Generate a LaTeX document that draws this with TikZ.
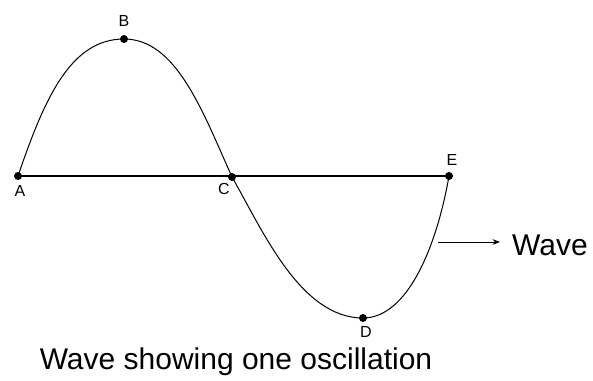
\documentclass[tikz,border=0pt]{standalone}
\usepackage{fontspec}
\setmainfont{Liberation Sans}
\usetikzlibrary{arrows.meta, positioning}

\begin{document}
\begin{tikzpicture}[x=1pt, y=-1pt,
    dot/.style={circle, fill=black, inner sep=0pt, minimum size=8pt},
    lbl/.style={font=\fontsize{16}{18}\selectfont, inner sep=0pt},
    wave/.style={line width=1pt},
  ]
  \useasboundingbox (0,0) rectangle (593,380);
  % points on the wave
  \node[dot] (A) at (18,176) {};
  \node[dot] (B) at (124,39) {};
  \node[dot] (C) at (232,177) {};
  \node[dot] (D) at (363,318) {};
  \node[dot] (E) at (449,176) {};
  \node[lbl, below=5pt of A, xshift=2pt] (labA) {A};
  \node[lbl, above=8pt of B] (labB) {B};
  \node[lbl, below=2pt of C, xshift=-8pt] (labC) {C};
  \node[lbl, below=4pt of D, xshift=3pt] (labD) {D};
  \node[lbl, above=6pt of E, xshift=3pt] (labE) {E};
  % axis
  \draw[line width=1.5pt] (A.center) -- (E.center);
  % the wave, one quarter at a time
  \draw[wave] (A.center) .. controls (44,100) and (70,39) .. (B.center)
    .. controls (176,39) and (202,110) .. (C.center)
    .. controls (262,229) and (300,318) .. (D.center)
    .. controls (408,318) and (437,245) .. (E.center);
  \coordinate (tail) at (438,242);
  \node[font=\fontsize{30}{36}\selectfont, anchor=west, inner sep=0pt] (wavelbl) at (512,245) {Wave};
  \draw[-Stealth, line width=1pt] (tail) -- ([xshift=-12pt]tail -| wavelbl.west);
  \node[font=\fontsize{30}{36}\selectfont] (caption) at (236,362) {Wave showing one oscillation};
\end{tikzpicture}
\end{document}
